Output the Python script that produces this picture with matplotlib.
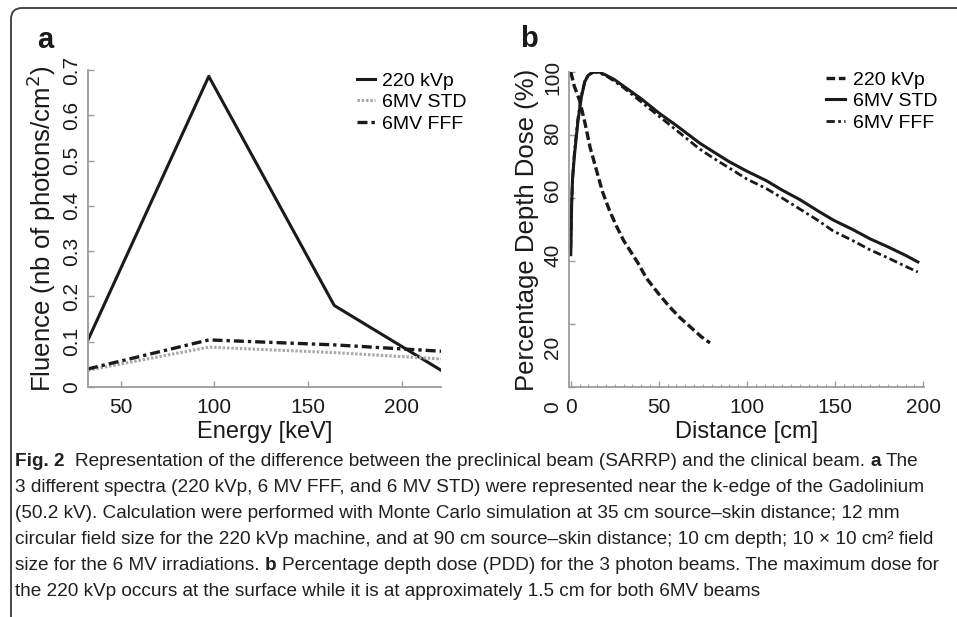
import matplotlib
matplotlib.use("Agg")
import matplotlib.pyplot as plt
from matplotlib.patches import FancyBboxPatch
from matplotlib.transforms import IdentityTransform, ScaledTranslation

plt.rcParams["font.family"] = ["Liberation Sans", "DejaVu Sans"]

# ---- panel a: spectra ----
energy = [32.5, 97, 164, 221]
flu_220 = [0.104, 0.686, 0.180, 0.037]
flu_std = [0.037, 0.088, 0.076, 0.062]
flu_fff = [0.040, 0.104, 0.093, 0.079]

# ---- panel b: percentage depth dose ----
d_220 = [0, 2, 5, 8, 11, 14, 18, 22, 26, 30, 34, 38, 43, 50, 56, 62, 69, 74, 79]
pdd_220 = [100, 95.5, 91, 84, 76, 70, 62, 56, 51, 46.5, 43, 39.5, 34.5, 29.5, 25.5, 22, 18.5, 16, 14]

d_std = [0, 0.5, 1, 2, 4, 6, 8, 10, 13, 16, 20, 25, 30, 35, 40, 50, 60, 73, 80, 90, 100,
         111, 120, 130, 140, 149, 160, 170, 180, 190, 197]
pdd_std = [42, 58, 66, 73, 84, 92, 97, 99, 100, 100, 99, 97.5, 95.5, 93.5, 91.5, 87, 83, 77.5, 75,
           71.5, 68.5, 65.5, 62.5, 59.5, 56, 53, 50, 47, 44.5, 41.8, 39.7]

d_fff = [0, 0.5, 1, 2, 4, 6, 8, 10, 13, 16, 20, 25, 30, 40, 50, 60, 73, 80, 90, 100,
         111, 120, 130, 140, 149, 160, 170, 180, 190, 197]
pdd_fff = [44, 58, 66, 74, 85, 92.5, 97, 99.3, 100, 99.8, 98.8, 97, 95, 90.5, 86, 81.5, 75.6, 73,
           69.5, 66, 63, 60, 56.5, 53, 49.5, 46.5, 43.5, 41, 38.3, 36.5]

W, H = 957, 617
fig = plt.figure(figsize=(W / 100, H / 100), dpi=100)
ink = "#1a1a1a"
spine = "#9c9c9c"


def style(ax):
    for s in ("top", "right"):
        ax.spines[s].set_visible(False)
    for s in ("left", "bottom"):
        ax.spines[s].set_color(spine)
        ax.spines[s].set_linewidth(1.3)
    ax.tick_params(direction="in", length=4, width=1, color=spine, labelsize=15,
                   labelcolor=ink, pad=8)
    ax.tick_params(axis="y", labelrotation=90, pad=5)
    for t in ax.get_yticklabels():
        t.set_va("center")


# ── a ──
axA = fig.add_axes([88 / W, 1 - 387 / H, 353 / W, 317 / H])
axA.plot(energy, flu_220, "-", color=ink, lw=2.2, label="220 kVp")
axA.plot(energy, flu_std, color="#a8a8a8", lw=2.2, ls=(0, (0.8, 0.6)), label="6MV STD")
axA.plot(energy, flu_fff, color=ink, lw=2.4, ls=(0, (3, 1.2, 1, 1.2)), label="6MV FFF")
axA.set_xlim(32.5, 221)
axA.set_ylim(0, 0.7)
axA.set_xticks([50, 100, 150, 200])
axA.set_yticks([0, 0.1, 0.2, 0.3, 0.4, 0.5, 0.6, 0.7])
axA.set_yticklabels(["0", "0.1", "0.2", "0.3", "0.4", "0.5", "0.6", "0.7"])
style(axA)
axA.set_xlabel("Energy [keV]", fontsize=17, color=ink, labelpad=3)
axA.set_ylabel("Fluence (nb of photons/cm$^2$)", fontsize=18.5, color=ink, labelpad=3)
axA.legend(loc="upper left", bbox_to_anchor=(357 / W, 1 - 72 / H), bbox_transform=fig.transFigure,
           frameon=False, fontsize=14, handlelength=0.9, handletextpad=0.4, labelspacing=0.2,
           borderpad=0, borderaxespad=0)

# ── b ──
axB = fig.add_axes([569 / W, 1 - 387 / H, 355 / W, 315 / H])
axB.plot(d_220, pdd_220, color=ink, lw=2.4, ls=(0, (2.6, 1.1)), label="220 kVp")
axB.plot(d_std, pdd_std, "-", color=ink, lw=2.2, label="6MV STD")
axB.plot(d_fff, pdd_fff, color=ink, lw=2.0, ls=(0, (3, 1.2, 1, 1.2)), label="6MV FFF")
axB.set_xlim(-1, 200.5)
axB.set_ylim(0, 100)
axB.set_xticks([0, 50, 100, 150, 200])
axB.set_xticks(range(0, 201, 5), minor=True)
axB.set_yticks([0, 20, 40, 60, 80, 100])
style(axB)
axB.tick_params(axis="x", which="minor", direction="in", length=2.5, width=0.8, color=spine)
axB.set_xlabel("Distance [cm]", fontsize=17, color=ink, labelpad=3)
axB.set_ylabel("Percentage Depth Dose (%)", fontsize=18.5, color=ink, labelpad=3)
axB.legend(loc="upper left", bbox_to_anchor=(826 / W, 1 - 71 / H), bbox_transform=fig.transFigure,
           frameon=False, fontsize=14, handlelength=1.0, handletextpad=0.4, labelspacing=0.2,
           borderpad=0, borderaxespad=0)

# the y labels of b sit a little off their ticks in the original
shift_b = {0: 20, 20: 23, 40: -6, 60: -8, 80: -2, 100: 5}
for val, lab in zip([0, 20, 40, 60, 80, 100], axB.get_yticklabels()):
    lab.set_transform(lab.get_transform() + ScaledTranslation(0, -shift_b[val] / 100, fig.dpi_scale_trans))

fig.text(45 / W, 1 - 40 / H, "a", fontsize=21, fontweight="bold", ha="center", va="center", color=ink)
fig.text(529 / W, 1 - 39 / H, "b", fontsize=21, fontweight="bold", ha="center", va="center", color=ink)

# rounded frame, open to the right and bottom
frame = FancyBboxPatch((11, -60), 1100, H - 8 + 60, boxstyle="round,pad=0,rounding_size=11",
                       fill=False, ec="#3c3c3c", lw=1.3, transform=IdentityTransform())
fig.patches.append(frame)

# ---- caption ----
cap_font = ["Liberation Sans Narrow", "Liberation Sans", "DejaVu Sans"]
cap_color = "#231f20"
caption = [
    [("Fig. 2", True), ("Representation of the difference between the preclinical beam (SARRP) and the clinical beam.", False),
     ("a", True), ("The", False)],
    [("3 different spectra (220 kVp, 6 MV FFF, and 6 MV STD) were represented near the k-edge of the Gadolinium", False)],
    [("(50.2 kV). Calculation were performed with Monte Carlo simulation at 35 cm source–skin distance; 12 mm", False)],
    [("circular field size for the 220 kVp machine, and at 90 cm source–skin distance; 10 cm depth; 10 × 10 cm² field", False)],
    [("size for the 6 MV irradiations.", False), ("b", True),
     ("Percentage depth dose (PDD) for the 3 photon beams. The maximum dose for", False)],
    [("the 220 kVp occurs at the surface while it is at approximately 1.5 cm for both 6MV beams", False)],
]
line_y = [461, 487, 513, 539, 565, 591]

r = fig.canvas.get_renderer()
probe = fig.text(0, 0, caption[3][0][0], fontsize=10, family=cap_font)
cap_size = 10 * 926 / probe.get_window_extent(r).width
probe.remove()
sp = fig.text(0, 0, "x x", fontsize=cap_size, family=cap_font)
sp2 = fig.text(0, 0, "xx", fontsize=cap_size, family=cap_font)
space = sp.get_window_extent(r).width - sp2.get_window_extent(r).width
sp.remove()
sp2.remove()

for y, runs in zip(line_y, caption):
    x = 15
    for i, (s, bold) in enumerate(runs):
        t = fig.text(x / W, 1 - y / H, s, fontsize=cap_size, family=cap_font, color=cap_color,
                     fontweight="bold" if bold else "normal", ha="left", va="center")
        x += t.get_window_extent(r).width + space * (2 if i == 0 and s == "Fig. 2" else 1)

fig.savefig("out.png", dpi=100)
